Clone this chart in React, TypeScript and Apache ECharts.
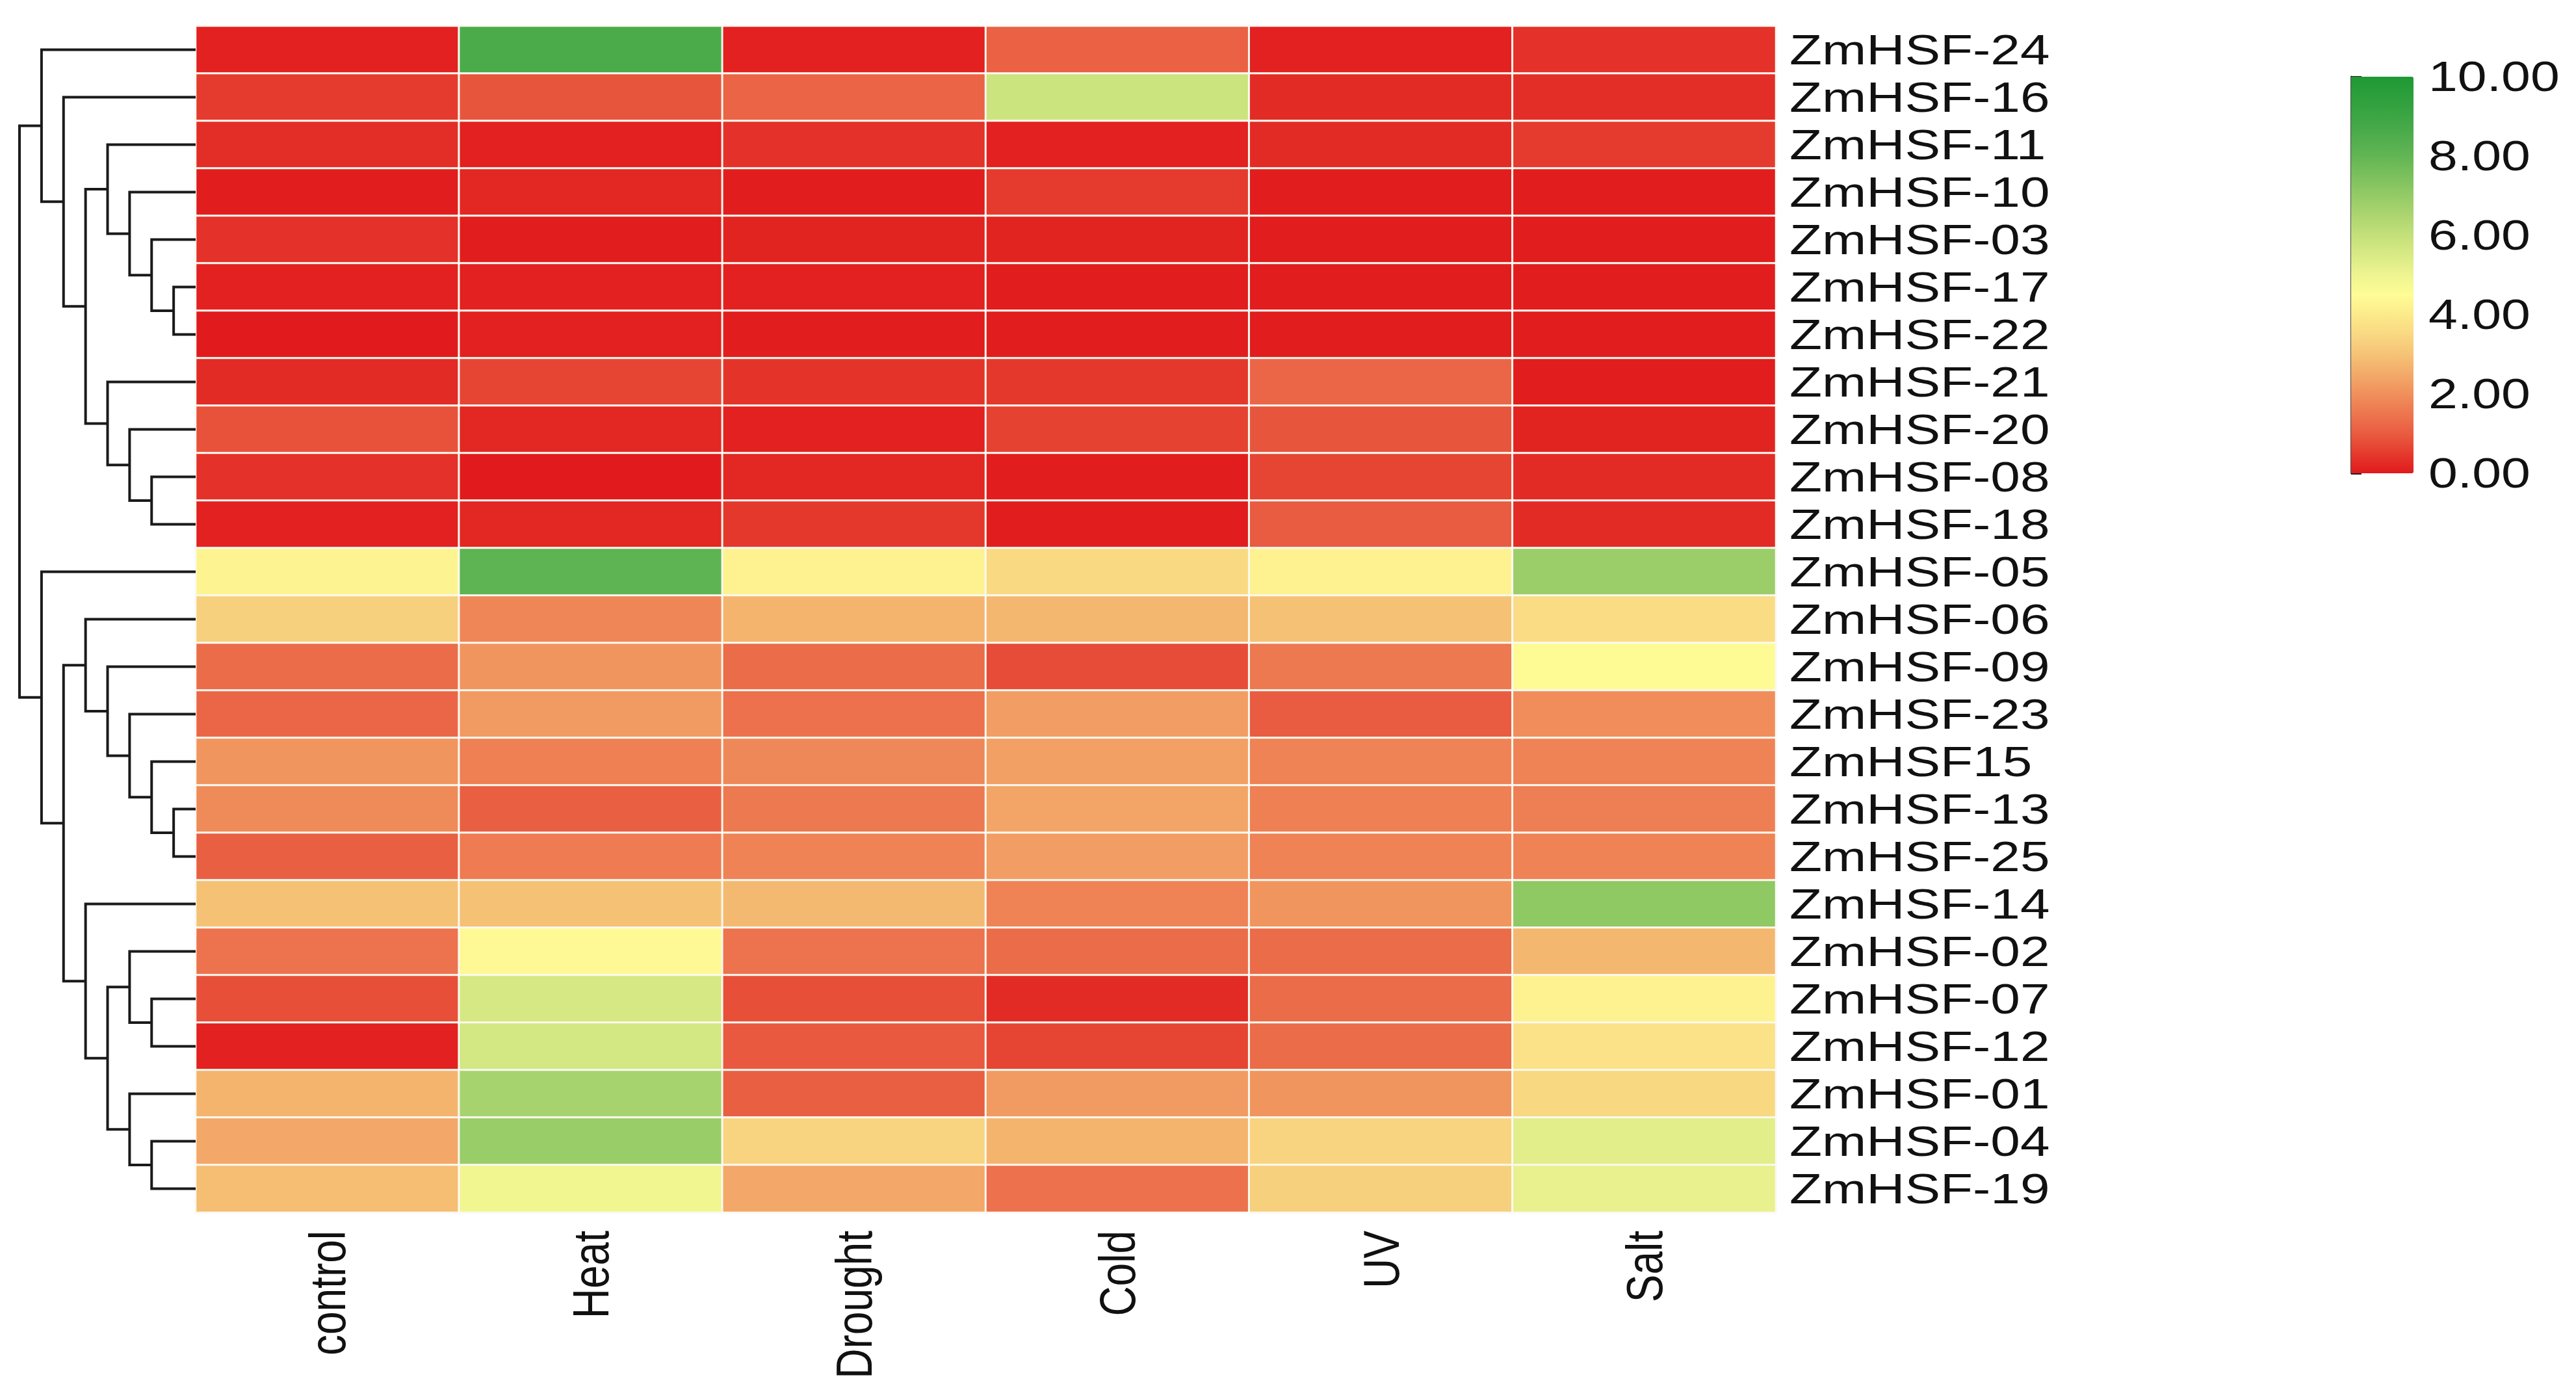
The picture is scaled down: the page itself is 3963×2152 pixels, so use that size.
import React, { useEffect, useRef } from "react";
import * as echarts from "echarts";

const rows = [
  "ZmHSF-24", "ZmHSF-16", "ZmHSF-11", "ZmHSF-10", "ZmHSF-03", "ZmHSF-17", "ZmHSF-22",
  "ZmHSF-21", "ZmHSF-20", "ZmHSF-08", "ZmHSF-18", "ZmHSF-05", "ZmHSF-06", "ZmHSF-09",
  "ZmHSF-23", "ZmHSF15", "ZmHSF-13", "ZmHSF-25", "ZmHSF-14", "ZmHSF-02", "ZmHSF-07",
  "ZmHSF-12", "ZmHSF-01", "ZmHSF-04", "ZmHSF-19",
];
const conditions = ["control", "Heat", "Drought", "Cold", "UV", "Salt"];

const control = [0.1, 0.5, 0.3, 0.05, 0.35, 0.1, 0.02, 0.25, 0.85, 0.35, 0.1, 4.25, 3.3, 1.3, 1.2, 2.1, 1.9, 1.05, 2.95, 1.45, 0.8, 0.1, 2.7, 2.45, 2.9];
const heat = [8.6, 0.9, 0.1, 0.2, 0.05, 0.1, 0.1, 0.65, 0.2, 0.02, 0.2, 8.1, 1.8, 2.1, 2.2, 1.7, 1.05, 1.6, 2.95, 4.4, 5.6, 5.65, 6.6, 6.9, 4.9];
const drought = [0.1, 1.15, 0.35, 0.05, 0.15, 0.1, 0.05, 0.4, 0.1, 0.2, 0.45, 4.2, 2.7, 1.3, 1.4, 1.85, 1.55, 1.75, 2.8, 1.45, 0.8, 0.95, 1.05, 3.4, 2.45];
const cold = [1.1, 5.8, 0.1, 0.5, 0.15, 0.05, 0.05, 0.45, 0.6, 0.05, 0.05, 3.55, 2.75, 0.75, 2.25, 2.3, 2.4, 2.25, 1.75, 1.3, 0.25, 0.65, 2.2, 2.7, 1.4];
const uv = [0.1, 0.25, 0.25, 0.05, 0.05, 0.05, 0.05, 1.2, 0.9, 0.65, 1.0, 4.2, 2.95, 1.55, 1.0, 1.75, 1.7, 1.75, 2.1, 1.3, 1.3, 1.3, 2.1, 3.4, 3.3];
const salt = [0.35, 0.3, 0.5, 0.05, 0.05, 0.05, 0.05, 0.05, 0.15, 0.25, 0.25, 6.85, 3.6, 4.45, 1.95, 1.75, 1.65, 1.75, 7.1, 2.75, 4.2, 3.75, 3.5, 5.3, 5.15];
const columns = [control, heat, drought, cold, uv, salt];

// dendrogram merges: [node, level, childA, childB]
const dendroNodes: [string, number, string, string][] = [
  ["H", 1, "ZmHSF-17", "ZmHSF-22"],
  ["G", 2, "ZmHSF-03", "H"],
  ["F", 3, "ZmHSF-10", "G"],
  ["D", 4, "ZmHSF-11", "F"],
  ["J", 2, "ZmHSF-08", "ZmHSF-18"],
  ["I", 3, "ZmHSF-20", "J"],
  ["E", 4, "ZmHSF-21", "I"],
  ["C", 5, "D", "E"],
  ["B", 6, "ZmHSF-16", "C"],
  ["A", 7, "ZmHSF-24", "B"],
  ["R", 1, "ZmHSF-13", "ZmHSF-25"],
  ["Q", 2, "ZmHSF15", "R"],
  ["O", 3, "ZmHSF-23", "Q"],
  ["N", 4, "ZmHSF-09", "O"],
  ["M", 5, "ZmHSF-06", "N"],
  ["V", 2, "ZmHSF-07", "ZmHSF-12"],
  ["T", 3, "ZmHSF-02", "V"],
  ["W", 2, "ZmHSF-04", "ZmHSF-19"],
  ["U", 3, "ZmHSF-01", "W"],
  ["S", 4, "T", "U"],
  ["P", 5, "ZmHSF-14", "S"],
  ["L", 6, "M", "P"],
  ["K", 7, "ZmHSF-05", "L"],
  ["root", 8, "A", "K"],
];

const colorTicks = [0, 2, 4, 6, 8, 10];
const colorStops = [
  "#E11A1C", "#E53B2E", "#E95C41", "#ED764F", "#F0905C", "#F3AA69", "#F5C376",
  "#F9D882", "#FCEA8B", "#FEFD96", "#EEF490", "#D9EA85", "#C4E07A", "#ACD570",
  "#94CB66", "#7BC05D", "#62B554", "#4FAD4C", "#3CA544", "#2D9F3C", "#1F9935",
];

const FONT = '"Liberation Sans", Arial, sans-serif';

export default function App() {
  const ref = useRef<HTMLDivElement>(null);
  useEffect(() => {
    document.body.style.margin = "0";
    const chart = echarts.init(ref.current!, null, { renderer: "svg" });

    const heatData: any[] = [];
    columns.forEach((col, c) => col.forEach((v, r) => heatData.push([c, r, v])));

    const pos: Record<string, [number, number]> = {};
    rows.forEach((r, i) => (pos[r] = [0, i]));
    const links: any[] = [];
    dendroNodes.forEach(([name, lvl, a, b]) => {
      const pa = pos[a];
      const pb = pos[b];
      links.push({
        coords: [
          [pa[0], pa[1]],
          [lvl, pa[1]],
          [lvl, pb[1]],
          [pb[0], pb[1]],
        ],
      });
      pos[name] = [lvl, (pa[1] + pb[1]) / 2];
    });

    const option: any = {
      animation: false,
      backgroundColor: "#ffffff",
      grid: [
        { left: 301, width: 2431, top: 40, height: 1825 },
        { left: 30, width: 271, top: 40, height: 1825 },
        { left: 3617, width: 96, top: 118, height: 610 },
      ],
      xAxis: [
        { type: "category", data: conditions, gridIndex: 0, show: false },
        { type: "value", gridIndex: 1, min: 0, max: 8, inverse: true, show: false },
        { type: "value", gridIndex: 2, min: 0, max: 1, show: false },
      ],
      yAxis: [
        { type: "category", data: rows, gridIndex: 0, inverse: true, show: false },
        { type: "value", gridIndex: 1, min: -0.5, max: 24.5, inverse: true, show: false },
        {
          type: "value",
          gridIndex: 2,
          min: 0,
          max: 10,
          interval: 2,
          position: "right",
          axisLine: { show: true, lineStyle: { color: "#444", width: 3 } },
          axisTick: { show: true, inside: false, length: 16, lineStyle: { color: "#222", width: 3 } },
          axisLabel: { show: false },
          splitLine: { show: false },
        },
      ],
      visualMap: {
        type: "continuous",
        min: 0,
        max: 10,
        seriesIndex: 0,
        calculable: false,
        orient: "vertical",
        left: 3617,
        top: 118,
        itemWidth: 96,
        itemHeight: 610,
        padding: 0,
        text: null,
        inRange: { color: colorStops },
      },
      series: [
        {
          type: "heatmap",
          xAxisIndex: 0,
          yAxisIndex: 0,
          data: heatData,
          itemStyle: { borderColor: "#FBF9F1", borderWidth: 3 },
          emphasis: { disabled: true },
          silent: true,
        },
        {
          type: "lines",
          coordinateSystem: "cartesian2d",
          xAxisIndex: 1,
          yAxisIndex: 1,
          polyline: true,
          silent: true,
          data: links,
          lineStyle: { color: "#1a1a1a", width: 4, opacity: 1 },
        },
      ],
    };
    chart.setOption(option);

    const graphics: any[] = [];
    rows.forEach((r) => {
      const y = chart.convertToPixel({ yAxisIndex: 0 }, r) as number;
      graphics.push({
        type: "text",
        x: 2753,
        y,
        scaleX: 1.28,
        silent: true,
        style: {
          text: r,
          fontSize: 64,
          fontFamily: FONT,
          fill: "#111",
          textAlign: "left",
          align: "left",
          textVerticalAlign: "middle",
          verticalAlign: "middle",
        },
      });
    });
    conditions.forEach((c) => {
      const x = chart.convertToPixel({ xAxisIndex: 0 }, c) as number;
      graphics.push({
        type: "text",
        x,
        y: 1893,
        rotation: Math.PI / 2,
        scaleY: 1.22,
        silent: true,
        style: {
          text: c,
          fontSize: 64,
          fontFamily: FONT,
          fill: "#111",
          textAlign: "right",
          align: "right",
          textVerticalAlign: "middle",
          verticalAlign: "middle",
        },
      });
    });
    colorTicks.forEach((v) => {
      const y = chart.convertToPixel({ yAxisIndex: 2 }, v) as number;
      graphics.push({
        type: "text",
        x: 3736,
        y,
        scaleX: 1.26,
        silent: true,
        style: {
          text: v.toFixed(2),
          fontSize: 64,
          fontFamily: FONT,
          fill: "#111",
          textAlign: "left",
          align: "left",
          textVerticalAlign: "middle",
          verticalAlign: "middle",
        },
      });
    });
    chart.setOption({ graphic: graphics });

    return () => chart.dispose();
  }, []);
  return (
    <div
      ref={ref}
      style={{ position: "fixed", left: 0, top: 0, width: "3963px", height: "2152px" }}
    />
  );
}
